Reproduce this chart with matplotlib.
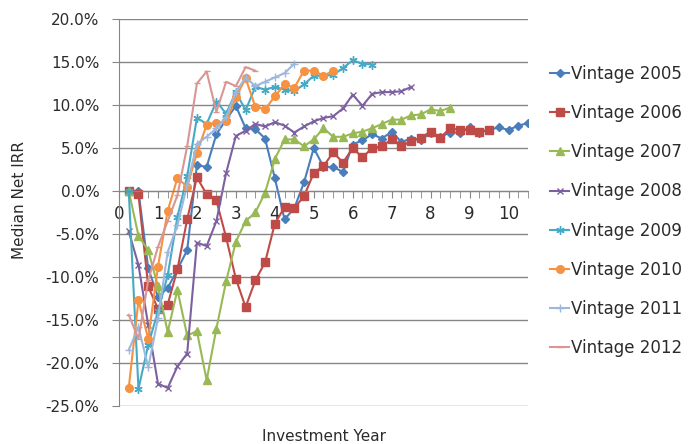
import matplotlib
matplotlib.use("Agg")
import matplotlib.pyplot as plt
import numpy as np
from matplotlib.ticker import MultipleLocator, FuncFormatter

# median net IRR (%) per quarter, first value at year 0.25
vintage_labels = ["Vintage 2005", "Vintage 2006", "Vintage 2007", "Vintage 2008",
                  "Vintage 2009", "Vintage 2010", "Vintage 2011", "Vintage 2012"]

irr_2005 = [0, 0, -9.0, -12.3, -11.3, -9.1, -6.9, 3.0, 2.8, 6.6, 8.3, 9.9, 7.3, 7.2,
            6.1, 1.5, -3.3, -2.0, 1.0, 5.0, 2.8, 2.8, 2.2, 5.4, 5.9, 6.6, 6.1, 6.9,
            5.7, 6.1, 5.9, 6.8, 6.3, 6.8, 6.8, 7.4, 6.8, 7.1, 7.4, 7.1, 7.6, 7.9]
irr_2006 = [0, -0.4, -11.1, -13.7, -13.2, -9.1, -3.3, 1.6, -0.4, -1.1, -5.4, -10.2,
            -13.5, -10.4, -8.3, -3.8, -1.9, -2.0, -0.6, 2.1, 2.9, 4.5, 3.3, 5.0, 3.9,
            5.0, 5.2, 6.0, 5.2, 5.8, 6.2, 6.9, 6.2, 7.3, 7.1, 7.1, 6.9, 7.1]
irr_2007 = [0, -5.2, -6.9, -11.1, -16.4, -11.5, -16.8, -16.3, -22.0, -16.0, -10.5,
            -5.9, -3.5, -2.5, -0.2, 3.7, 6.0, 6.0, 5.2, 6.0, 7.3, 6.3, 6.3, 6.7, 6.9,
            7.3, 7.8, 8.3, 8.3, 8.8, 8.9, 9.5, 9.3, 9.7]
irr_2008 = [-4.7, -8.6, -15.6, -22.4, -22.9, -20.4, -18.9, -6.0, -6.4, -3.5, 2.1, 6.4,
            7.0, 7.8, 7.5, 8.0, 7.6, 6.8, 7.5, 8.1, 8.5, 8.7, 9.6, 11.2, 9.9, 11.3,
            11.5, 11.5, 11.6, 12.1]
irr_2009 = [0, -23.0, -17.9, -14.0, -9.8, -3.0, 1.7, 8.5, 7.8, 10.4, 9.0, 11.5, 9.4,
            12.1, 11.8, 12.1, 11.8, 11.6, 12.4, 13.4, 13.4, 13.5, 14.3, 15.2, 14.8, 14.7]
irr_2010 = [-22.9, -12.7, -17.2, -8.8, -2.3, 1.5, 0.5, 4.4, 7.7, 7.9, 8.1, 10.9, 13.1,
            9.8, 9.5, 11.0, 12.4, 12.0, 14.0, 14.0, 13.4, 14.0]
irr_2011 = [-18.5, -15.8, -20.5, -14.8, -7.1, -4.0, 0.7, 5.5, 6.3, 7.3, 8.6, 11.5, 13.2,
            12.2, 12.7, 13.2, 13.7, 14.8]
irr_2012 = [-14.4, -17.2, -10.4, -6.5, -3.5, -0.5, 5.2, 12.5, 13.9, 9.2, 12.7, 12.2,
            14.4, 14.0]

series = [irr_2005, irr_2006, irr_2007, irr_2008, irr_2009, irr_2010, irr_2011, irr_2012]
colors = ["#4A7EBB", "#BE4B48", "#98B954", "#7D60A0", "#46AAC5", "#F69240",
          "#9DB8DC", "#D99694"]
markers = ["D", "s", "^", "x", (6, 2, 0), "o", "+", "_"]
msizes = [4, 5.5, 5.5, 5, 6, 5.5, 6, 4]

plt.rcParams['font.family'] = ['DejaVu Sans']
grid_gray = "#868686"
text_col = "#2b2b2b"

fig = plt.figure(figsize=(6.9, 4.44), dpi=100)
ax = fig.add_axes([119 / 690, 1 - 406 / 444, (528 - 119) / 690, (406 - 19) / 444])

for vals, lab, c, m, ms in zip(series, vintage_labels, colors, markers, msizes):
    years = 0.25 * np.arange(1, len(vals) + 1)
    ax.plot(years, vals, color=c, marker=m, markersize=ms, linewidth=1.5,
            markeredgewidth=1.0, label=lab)

ax.set_xlim(0, 10.5)
ax.set_ylim(-25, 20)
ax.yaxis.set_major_locator(MultipleLocator(5))
ax.yaxis.set_major_formatter(FuncFormatter(lambda v, p: f"{v:.1f}%"))
ax.xaxis.set_major_locator(MultipleLocator(1))
ax.xaxis.set_minor_locator(MultipleLocator(0.25))
ax.grid(axis='y', color=grid_gray, linewidth=1.0)
ax.set_axisbelow(True)

for s in ['top', 'right']:
    ax.spines[s].set_visible(False)
ax.spines['bottom'].set_position(('data', 0))
ax.spines['bottom'].set_color(grid_gray)
ax.spines['left'].set_color(grid_gray)
ax.tick_params(axis='y', length=5, color=grid_gray, labelsize=11, labelcolor=text_col, pad=9)
ax.tick_params(axis='x', which='both', length=5, color=grid_gray, direction='out')
ax.tick_params(axis='x', labelsize=12, labelcolor=text_col, pad=5)

fig.text(20 / 690, 1 - 200 / 444, "Median Net IRR", rotation=90, ha='center',
         va='center', fontsize=11, color=text_col)
fig.text(324 / 690, 1 - 436 / 444, "Investment Year", ha='center', va='center',
         fontsize=11, color=text_col)

ax.legend(loc='center left', bbox_to_anchor=(542 / 690, 1 - 211 / 444),
          bbox_transform=fig.transFigure, frameon=False, fontsize=12,
          handlelength=1.1, handletextpad=0.15, labelspacing=1.27, borderpad=0,
          labelcolor=text_col)

fig.savefig("out.png", dpi=100)
